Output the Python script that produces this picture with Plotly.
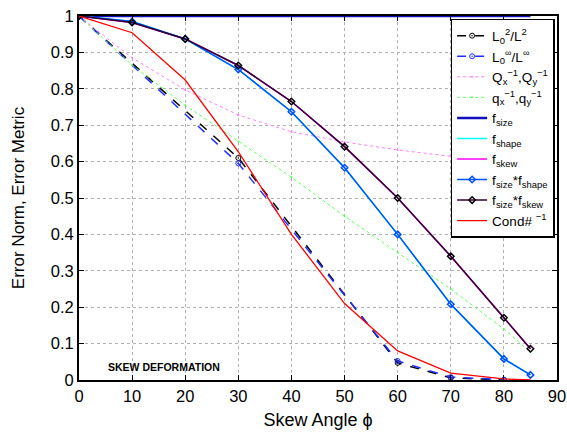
import plotly.graph_objects as go

# Data
x_full = [0, 10, 20, 30, 40, 50, 60, 70, 80, 85]
x_err = [0, 30, 60, 70, 80]
l2_err = [1.0, 0.61, 0.047, 0.006, 0.0]
linf_err = [1.0, 0.595, 0.052, 0.008, 0.001]
q_big = [1.0, 0.885, 0.797, 0.728, 0.682, 0.654, 0.632, 0.615, 0.597, 0.585]
q_small = [1.0, 0.865, 0.755, 0.655, 0.557, 0.45, 0.35, 0.25, 0.14, 0.077]
f_size = [1, 1, 1, 1, 1, 1, 1, 1, 1, 1]
f_shape = [1.0, 0.985, 0.937, 0.853, 0.737, 0.583, 0.40, 0.208, 0.058, 0.014]
f_skew = [1.0, 0.982, 0.937, 0.864, 0.765, 0.641, 0.50, 0.34, 0.171, 0.086]
f_size_shape = f_shape
f_size_skew = f_skew
cond_inv = [1.0, 0.954, 0.824, 0.627, 0.40, 0.21, 0.08, 0.019, 0.003, 0.0]

fig = go.Figure()
fig.add_trace(go.Scatter(x=x_err, y=l2_err, name="L<sub>0</sub><sup>2</sup>/L<sup>2</sup>",
                         mode="lines+markers", line=dict(color="black", width=1.5, dash="dash"),
                         marker=dict(symbol="circle-open-dot", size=5, color="black")))
fig.add_trace(go.Scatter(x=x_err, y=linf_err, name="L<sub>0</sub><sup>∞</sup>/L<sup>∞</sup>",
                         mode="lines+markers", line=dict(color="#2030ff", width=1.5, dash="dash"),
                         marker=dict(symbol="circle-open-dot", size=5, color="#2030ff")))
fig.add_trace(go.Scatter(x=x_full, y=q_big, name="Q<sub>x</sub><sup>−1</sup>,Q<sub>y</sub><sup>−1</sup>",
                         mode="lines+markers", line=dict(color="#ff80ff", width=1, dash="dot"),
                         marker=dict(size=2, color="#ff80ff")))
fig.add_trace(go.Scatter(x=x_full, y=q_small, name="q<sub>x</sub><sup>−1</sup>,q<sub>y</sub><sup>−1</sup>",
                         mode="lines+markers", line=dict(color="#60ff60", width=1, dash="dot"),
                         marker=dict(size=2, color="#60ff60")))
fig.add_trace(go.Scatter(x=x_full, y=f_size, name="f<sub>size</sub>", mode="lines",
                         line=dict(color="#1010c0", width=2.5)))
fig.add_trace(go.Scatter(x=x_full, y=f_shape, name="f<sub>shape</sub>", mode="lines",
                         line=dict(color="#00ffff", width=1.5)))
fig.add_trace(go.Scatter(x=x_full, y=f_skew, name="f<sub>skew</sub>", mode="lines",
                         line=dict(color="#ff00ff", width=1.5)))
fig.add_trace(go.Scatter(x=x_full, y=f_size_shape, name="f<sub>size</sub>*f<sub>shape</sub>",
                         mode="lines+markers", line=dict(color="#0050ff", width=1.5),
                         marker=dict(symbol="diamond-open", size=5, color="#0050ff", line=dict(width=1.5))))
fig.add_trace(go.Scatter(x=x_full, y=f_size_skew, name="f<sub>size</sub>*f<sub>skew</sub>",
                         mode="lines+markers", line=dict(color="#300030", width=1.5),
                         marker=dict(symbol="diamond-open", size=5, color="black", line=dict(width=1.5))))
fig.add_trace(go.Scatter(x=x_full, y=cond_inv, name="Cond# <sup>−1</sup>", mode="lines",
                         line=dict(color="red", width=1.3)))

fig.add_annotation(x=5, y=0.036, xref="x", yref="y", text="<b>SKEW DEFORMATION</b>",
                   showarrow=False, xanchor="left", yanchor="middle",
                   font=dict(size=10.5, color="black", family="Liberation Sans"))

axis_common = dict(showline=True, linecolor="black", linewidth=2, mirror="allticks",
                   ticks="inside", ticklen=5, tickcolor="black", automargin=False,
                   showgrid=True, gridcolor="#b0b0b0", griddash="dot", gridwidth=1,
                   zeroline=False, tickfont=dict(size=16.5, color="black", family="Liberation Sans"))

fig.update_layout(
    width=567, height=433,
    margin=dict(l=79, r=10, t=16, b=53),
    paper_bgcolor="white", plot_bgcolor="white",
    font=dict(family="Liberation Sans", color="black"),
    xaxis=dict(range=[0, 90], dtick=10, tick0=0,
               title=dict(text="Skew Angle ϕ", font=dict(size=18), standoff=10), **axis_common),
    yaxis=dict(range=[0, 1], dtick=0.1, tick0=0, tickformat="~g",
               title=dict(text="Error Norm, Error Metric", font=dict(size=17), standoff=22), **axis_common),
    legend=dict(x=0.995, y=0.992, xanchor="right", yanchor="top",
                bgcolor="white", bordercolor="black", borderwidth=1.5,
                font=dict(size=13.5, color="black"), tracegroupgap=0, itemwidth=30),
    showlegend=True,
)

fig.write_html("out.html")
